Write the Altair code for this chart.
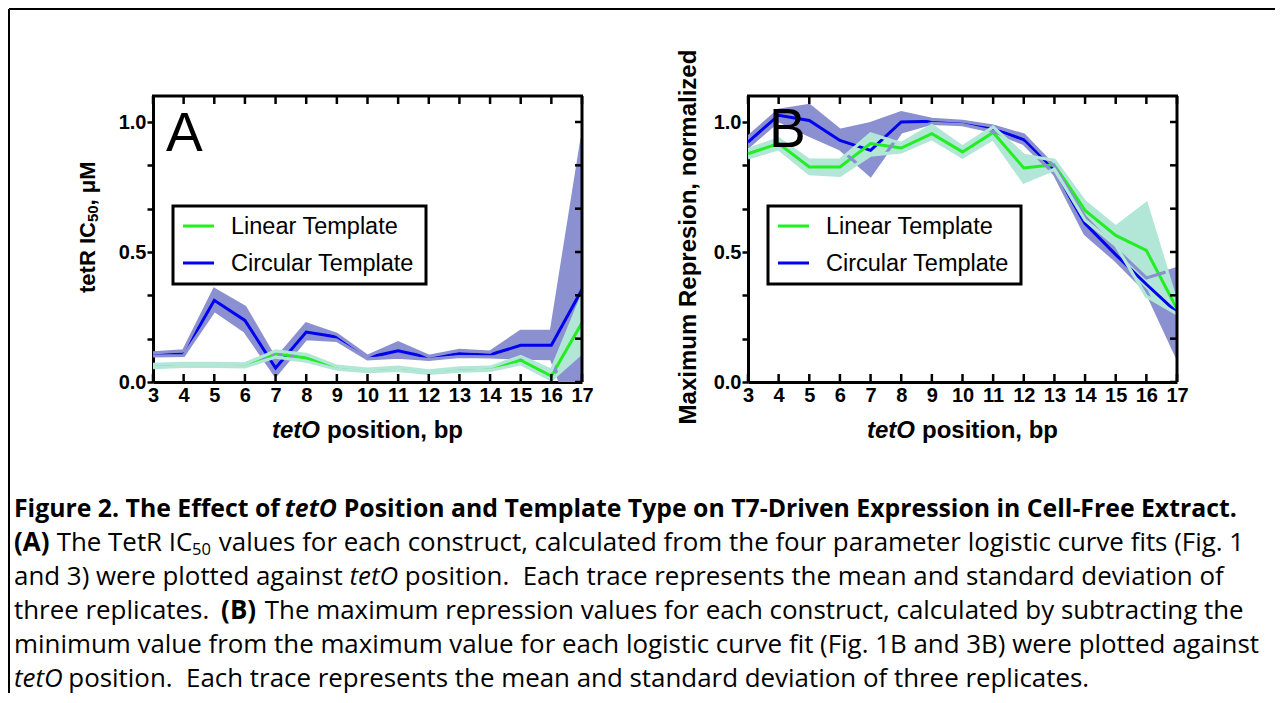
import altair as alt
import pandas as pd

# ---------------- data ----------------
positions = list(range(3, 18))

a_lin_mean = [0.061, 0.066, 0.066, 0.064, 0.109, 0.092, 0.055, 0.045, 0.051, 0.038, 0.048, 0.051, 0.083, 0.023, 0.228]
a_lin_lo   = [0.055, 0.060, 0.060, 0.058, 0.096, 0.080, 0.049, 0.040, 0.045, 0.033, 0.042, 0.045, 0.070, 0.008, 0.113]
a_lin_hi   = [0.068, 0.072, 0.072, 0.070, 0.120, 0.106, 0.061, 0.050, 0.057, 0.043, 0.054, 0.057, 0.098, 0.045, 0.330]
a_cir_mean = [0.105, 0.108, 0.314, 0.237, 0.054, 0.192, 0.173, 0.094, 0.120, 0.094, 0.109, 0.105, 0.141, 0.141, 0.356]
a_cir_lo   = [0.100, 0.102, 0.276, 0.195, 0.025, 0.167, 0.160, 0.089, 0.096, 0.087, 0.098, 0.097, 0.092, 0.090, -0.224]
a_cir_hi   = [0.112, 0.120, 0.356, 0.288, 0.085, 0.224, 0.183, 0.099, 0.151, 0.099, 0.122, 0.115, 0.195, 0.195, 0.936]

b_lin_mean = [0.878, 0.917, 0.827, 0.827, 0.917, 0.900, 0.955, 0.885, 0.960, 0.823, 0.836, 0.660, 0.564, 0.506, 0.282]
b_lin_lo   = [0.862, 0.897, 0.801, 0.795, 0.872, 0.885, 0.936, 0.865, 0.936, 0.769, 0.818, 0.622, 0.526, 0.330, 0.262]
b_lin_hi   = [0.894, 0.935, 0.853, 0.853, 0.955, 0.917, 0.987, 0.904, 0.981, 0.872, 0.853, 0.692, 0.596, 0.686, 0.300]
b_cir_mean = [0.923, 1.026, 1.006, 0.929, 0.891, 1.000, 1.003, 0.997, 0.974, 0.932, 0.814, 0.609, 0.490, 0.376, 0.267]
b_cir_lo   = [0.904, 1.006, 0.949, 0.897, 0.795, 0.962, 0.995, 0.990, 0.964, 0.917, 0.800, 0.570, 0.468, 0.350, 0.096]
b_cir_hi   = [0.942, 1.045, 1.064, 0.968, 0.994, 1.036, 1.010, 1.003, 0.984, 0.950, 0.828, 0.635, 0.513, 0.400, 0.436]

y_ticks = [0.0, 1 / 6, 2 / 6, 0.5, 4 / 6, 5 / 6, 1.0]
legend_labels = ["Linear Template", "Circular Template"]
x_title = ["tetO", "position, bp"]
a_y_title = ["tetR IC", "50", ", \u03bcM"]
b_y_title = "Maximum Represion, normalized"

# caption segments: (text, weight, style, kind, approx width at 24.5px Open Sans, spaces after)
caption = [
    [("Figure 2. The Effect of", "bold", "normal", "b", 261, 1), ("tetO", "bold", "italic", "b", 52, 1),
     ("Position and Template Type on T7-Driven Expression in Cell-Free Extract.", "bold", "normal", "b", 883, 0)],
    [("(A)", "bold", "normal", "n", 34, 1), ("The TetR IC", "normal", "normal", "n", 128, 0),
     ("50", "normal", "normal", "s", 19, 1),
     ("values for each construct, calculated from the four parameter logistic curve fits (Fig. 1", "normal", "normal", "n", 971, 0)],
    [("and 3) were plotted against", "normal", "normal", "n", 311, 1), ("tetO", "normal", "italic", "n", 46, 1),
     ("position.\u00a0 Each trace represents the mean and standard deviation of", "normal", "normal", "n", 749, 0)],
    [("three replicates.", "normal", "normal", "n", 180, 2.5), ("(B)", "bold", "normal", "n", 35, 1),
     ("The maximum repression values for each construct, calculated by subtracting the", "normal", "normal", "n", 926, 0)],
    [("minimum value from the maximum value for each logistic curve fit (Fig. 1B and 3B) were plotted against", "normal", "normal", "n", 1179, 0)],
    [("tetO", "normal", "italic", "n", 45, 1),
     ("position.\u00a0 Each trace represents the mean and standard deviation of three replicates.", "normal", "normal", "n", 964, 0)],
]
caption_left = 13
caption_base = [516, 550, 584, 618, 652, 686]

# ---------------- styling / layout ----------------
FONT = "Liberation Sans"
CFONT = "Open Sans"
BASE = 24.5
SIZES = {"b": 24.8, "n": 25.9, "s": 16.5}
W, H = 429, 286
A_LEFT, TOP = 152, 95
BLUE = "#0000f0"
GREEN = "#22ee22"
BLUE_BAND = "#8b90d0"
TEAL_BAND = "#b2e6d6"

one = pd.DataFrame({"k": [0]})

x_axis = alt.Axis(values=positions, ticks=False, domainWidth=3, domainColor="black",
                  labelFont=FONT, labelFontSize=20, labelFontWeight="bold", labelColor="black",
                  labelPadding=3, labelFlush=False, labelOverlap=False, grid=False, title=None, format="d")
y_axis = alt.Axis(values=y_ticks, tickSize=6, tickWidth=2.5, tickColor="black", domainWidth=3,
                  domainColor="black", labelFont=FONT, labelFontSize=20, labelFontWeight="bold",
                  labelColor="black", labelPadding=1, grid=False, title=None,
                  labelExpr="abs(datum.value*2 - round(datum.value*2)) < 0.01 ? format(datum.value, '.1f') : ''")
x_scale = alt.Scale(domain=[3, 17], nice=False, zero=False)
y_scale = alt.Scale(domain=[0, 1.1], nice=False, zero=False)


def X():
    return alt.X("pos:Q", scale=x_scale, axis=x_axis)


def Y(field):
    return alt.Y(f"{field}:Q", scale=y_scale, axis=y_axis)


def txt(s, x, y, size, weight="normal", style="normal", font=FONT, align="left", angle=0, baseline="alphabetic"):
    kw = dict(font=font, fontSize=size, fontWeight=weight, fontStyle=style, align=align,
              baseline=baseline, color="black")
    if angle:
        kw["angle"] = angle
    return alt.Chart(one).mark_text(**kw).encode(x=alt.value(x), y=alt.value(y), text=alt.value(s))


def panel(lin_mean, lin_lo, lin_hi, cir_mean, cir_lo, cir_hi, letter, letter_xy, ytitle_layers, extra=()):
    lin = pd.DataFrame({"pos": positions, "mean": lin_mean, "lo": lin_lo, "hi": lin_hi})
    cir = pd.DataFrame({"pos": positions, "mean": cir_mean, "lo": cir_lo, "hi": cir_hi})
    ticks = pd.DataFrame({"pos": positions})
    yt = pd.DataFrame({"v": y_ticks})

    layers = [
        alt.Chart(cir).mark_area(color=BLUE_BAND, opacity=1, clip=True).encode(x=X(), y=Y("hi"), y2="lo:Q"),
        alt.Chart(lin).mark_area(color=TEAL_BAND, opacity=1, clip=True).encode(x=X(), y=Y("hi"), y2="lo:Q"),
        alt.Chart(cir).mark_line(color=BLUE, strokeWidth=3).encode(x=X(), y=Y("mean")),
        alt.Chart(lin).mark_line(color=GREEN, strokeWidth=3).encode(x=X(), y=Y("mean")),
        alt.Chart(cir).mark_line(color=BLUE_BAND, strokeWidth=3.2, clip=True).encode(x=X(), y=Y("hi")),
        alt.Chart(cir).mark_line(color=BLUE_BAND, strokeWidth=3.2, clip=True).encode(x=X(), y=Y("lo")),
        alt.Chart(lin).mark_line(color=TEAL_BAND, strokeWidth=3.2, clip=True).encode(x=X(), y=Y("hi")),
        alt.Chart(lin).mark_line(color=TEAL_BAND, strokeWidth=3.2, clip=True).encode(x=X(), y=Y("lo")),
        # frame top / right
        alt.Chart(one).mark_rule(color="black", strokeWidth=3).encode(x=alt.value(-1), x2=alt.value(W + 1), y=alt.value(0)),
        alt.Chart(one).mark_rule(color="black", strokeWidth=3).encode(x=alt.value(W), y=alt.value(0), y2=alt.value(H)),
        # inward ticks: top, bottom, right
        alt.Chart(ticks).mark_rule(color="black", strokeWidth=2.5).encode(x=X(), y=alt.value(0), y2=alt.value(8)),
        alt.Chart(ticks).mark_rule(color="black", strokeWidth=2.5).encode(x=X(), y=alt.value(H - 8), y2=alt.value(H)),
        alt.Chart(yt).mark_rule(color="black", strokeWidth=2.5).encode(y=Y("v"), x=alt.value(W - 7), x2=alt.value(W)),
        # legend
        alt.Chart(one).mark_rect(fill="white", stroke="black", strokeWidth=3).encode(
            x=alt.value(20), x2=alt.value(273), y=alt.value(110), y2=alt.value(188)),
        alt.Chart(one).mark_rule(color=GREEN, strokeWidth=3).encode(x=alt.value(30), x2=alt.value(61), y=alt.value(130)),
        alt.Chart(one).mark_rule(color=BLUE, strokeWidth=3).encode(x=alt.value(30), x2=alt.value(61), y=alt.value(167)),
        txt(legend_labels[0], 78, 138, 23.5),
        txt(legend_labels[1], 78, 175, 23.5),
        # panel letter
        txt(letter, letter_xy[0], letter_xy[1], 55),
        # x title
        txt(x_title[0], 119, 342, 24, "bold", "italic"),
        txt(x_title[1], 174, 342, 24, "bold"),
    ]
    layers += list(ytitle_layers) + list(extra)
    return alt.layer(*layers).properties(width=W, height=H)


# y-axis title of panel A (with subscript), rotated, built from bottom upward
tsz = 22
ya_x, ya_y = -65, 197
a_title_layers = [
    txt(a_y_title[0], ya_x, ya_y, tsz, "bold", angle=270, baseline="middle"),
    txt(a_y_title[1], ya_x + 5, ya_y - 3.222 * tsz, 15, "bold", angle=270, baseline="middle"),
    txt(a_y_title[2], ya_x, ya_y - 3.222 * tsz - 2 * 0.556 * 15, tsz, "bold", angle=270, baseline="middle"),
]
b_title_layers = [txt(b_y_title, -59, 141, 24, "bold", align="center", angle=270, baseline="middle")]

# caption + outer frame, positioned relative to panel A's plot origin
extra = []
for segs, base in zip(caption, caption_base):
    xa = caption_left
    line_size = SIZES["b"] if segs[0][3] == "b" else SIZES["n"]
    for s, wgt, sty, kind, w24, nsp in segs:
        size = SIZES[kind]
        yb = base + (4 if kind == "s" else 0)
        extra.append(txt(s, xa - A_LEFT, yb - TOP, size, wgt, sty, font=CFONT))
        wscale = (SIZES["n"] if kind == "s" else size) / BASE
        xa += w24 * wscale + nsp * 0.26 * line_size
extra.append(alt.Chart(one).mark_rule(color="black", strokeWidth=2).encode(
    x=alt.value(8 - A_LEFT), x2=alt.value(1274 - A_LEFT), y=alt.value(8 - TOP)))
extra.append(alt.Chart(one).mark_rule(color="black", strokeWidth=2).encode(
    x=alt.value(8 - A_LEFT), y=alt.value(8 - TOP), y2=alt.value(692 - TOP)))

pa = panel(a_lin_mean, a_lin_lo, a_lin_hi, a_cir_mean, a_cir_lo, a_cir_hi, "A", (13, 55), a_title_layers, extra)
pb = panel(b_lin_mean, b_lin_lo, b_lin_hi, b_cir_mean, b_cir_lo, b_cir_hi, "B", (21, 51), b_title_layers)

chart = alt.hconcat(pa, pb, spacing=166, bounds="flush").properties(padding=0, background="white").configure_view(stroke=None)

chart.save("out.html", embed_options={"renderer": "svg", "actions": False})
